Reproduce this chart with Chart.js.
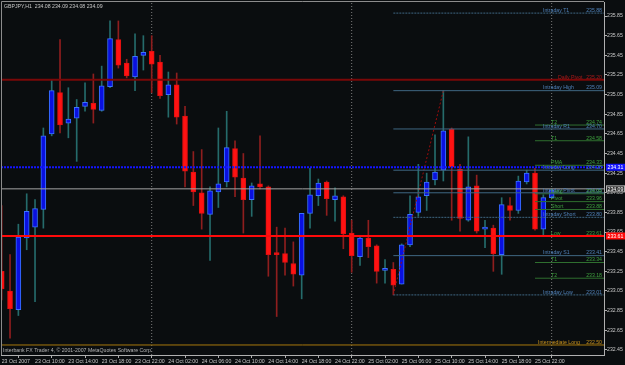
<!DOCTYPE html>
<html><head><meta charset="utf-8">
<script src="https://cdn.jsdelivr.net/npm/chart.js@4.4.1/dist/chart.umd.min.js"></script>
<style>html,body{margin:0;padding:0;background:#0a0d0f;overflow:hidden}</style>
</head><body>
<canvas id="c" width="625" height="365" style="display:block;width:625px;height:365px"></canvas>
<script>
// ---------- DATA ----------
const chartTitle = "GBPJPY,H1  234.08 234.09 234.08 234.09";
const watermark = "Interbank FX Trader 4, \u00A9 2001-2007 MetaQuotes Software Corp.";

// hourly bars, index 0 = 23 Oct 2007 06:00
const opens  = [233.25,233.05,232.86,233.59,233.70,233.88,234.65,235.07,234.76,234.81,234.93,234.96,234.89,235.13,235.61,235.37,235.23,235.45,235.49,235.38,235.05,235.15,234.83,234.26,234.05,233.83,234.06,234.16,234.50,234.20,233.98,234.14,234.11,233.43,233.43,233.33,233.21,233.84,234.02,234.16,233.98,234.01,233.64,233.40,233.59,233.51,233.26,233.27,233.12,233.52,233.85,234.02,234.18,234.28,234.70,234.29,233.77,234.12,233.68,233.69,233.42,233.92,233.87,234.16,234.25,233.68,234.00];
const highs  = [233.92,233.42,233.73,234.04,233.98,234.71,235.20,235.61,235.12,235.00,235.17,235.26,235.34,235.80,235.80,235.41,235.67,235.65,235.65,235.45,235.28,235.27,234.93,234.47,234.49,234.11,234.71,234.88,234.58,234.45,234.15,234.63,234.12,233.70,233.69,233.55,233.84,234.30,234.19,234.17,234.10,234.02,233.77,233.60,233.77,233.52,233.37,233.34,233.53,234.02,234.34,234.25,234.64,235.09,234.71,234.34,234.62,234.23,233.77,233.72,234.00,234.00,234.22,234.28,234.30,234.03,234.09];
const lows   = [232.96,232.57,232.80,233.47,232.94,233.69,234.63,234.66,234.61,234.37,234.88,234.76,234.88,235.12,235.32,235.22,235.09,235.30,235.07,235.01,234.82,234.75,234.11,233.92,233.68,233.36,233.90,234.11,234.01,233.64,233.81,234.09,233.20,232.79,233.21,233.10,232.97,233.69,233.92,233.82,233.76,233.48,233.24,233.31,233.39,233.13,233.13,233.01,233.12,233.50,233.81,233.87,234.13,234.17,233.77,233.66,233.76,233.64,233.49,233.25,233.22,233.77,233.84,234.14,233.67,233.61,234.00];
const closes = [233.07,232.87,233.60,233.86,233.89,234.63,235.09,234.74,234.80,234.92,234.97,234.90,235.14,235.62,235.35,235.24,235.44,235.48,235.36,235.04,235.15,234.82,234.27,234.06,233.84,234.07,234.14,234.51,234.21,233.98,234.12,234.11,233.42,233.42,233.34,233.22,233.84,234.03,234.15,233.99,234.02,233.63,233.41,233.59,233.50,233.25,233.28,233.11,233.52,233.83,234.01,234.16,234.26,234.68,234.31,233.79,234.11,233.66,233.70,233.43,233.93,233.87,234.17,234.25,233.68,234.00,234.08];

const timeTickIndex  = [0,4,8,12,16,20,24,28,32,36,40,44,48,52,56,60,64];
const timeTickLabels = ["23 Oct 2007","23 Oct 10:00","23 Oct 14:00","23 Oct 18:00","23 Oct 22:00","24 Oct 02:00","24 Oct 06:00","24 Oct 10:00","24 Oct 14:00","24 Oct 18:00","24 Oct 22:00","25 Oct 02:00","25 Oct 06:00","25 Oct 10:00","25 Oct 14:00","25 Oct 18:00","25 Oct 22:00"];
const priceTicks = [232.45,232.65,232.85,233.05,233.25,233.45,233.65,233.85,234.05,234.25,234.45,234.65,234.85,235.05,235.25,235.45,235.65,235.85];
const daySeparators = [18,42,66];

const intradayNames  = ["Intraday T1","Intraday High","Intraday R1","Intraday Long","Intraday Pivot","Intraday Short","Intraday S1","Intraday Low"];
const intradayValues = [235.88,235.09,234.70,234.28,234.05,233.80,233.41,233.01];
const intradayDashed = [true,false,false,false,false,true,false,true];
const intradayStart = 47;

const targetNames  = ["T2","T1","PMA","Long","Pivot","Short","Low","T1","T2"];
const targetValues = [234.74,234.58,234.33,234.04,233.96,233.88,233.61,233.34,233.18];
const targetStart = 64;

const dailyPivot = 235.20;
const intermediateLong = 232.50;
const blueLine = 234.31;
const bidLine = 234.09;
const redLine = 233.61;
const trendFrom = [47, 233.01];
const trendTo   = [53, 235.09];

// visible window
const X_MIN = -0.084, X_MAX = 72.28;
const Y_MIN = 232.398, Y_MAX = 235.993;

// ---------- BUILD ----------
const FONT = "'Liberation Sans', Arial, sans-serif";
const FS = 5.2;
const bull = closes.map((c,i)=>c>=opens[i]);

function hline(v, from, color, width, dash){
  return {type:'line', data:[{x:from,y:v},{x:X_MAX,y:v}], borderColor:color, borderWidth:width,
    borderDash:dash||[], pointRadius:0, tension:0, order:0, fill:false};
}

const datasets = [];
datasets.push(hline(dailyPivot, X_MIN, '#7a0808', 2));
datasets.push(hline(blueLine, X_MIN, '#1414ff', 2, [2,1]));
datasets.push(hline(bidLine, X_MIN, '#a4a4a4', 1));
datasets.push(hline(redLine, X_MIN, '#ff0a0a', 2));
datasets.push(hline(intermediateLong, X_MIN, '#a8780c', 1));
intradayValues.forEach((v,k)=>datasets.push(hline(v, intradayStart, '#3f6783', 1, intradayDashed[k]?[2,1]:null)));
targetValues.forEach(v=>datasets.push(hline(v, targetStart, '#2f6f2f', 1)));
daySeparators.forEach(d=>datasets.push({type:'line', data:[{x:d,y:Y_MIN},{x:d,y:Y_MAX}], borderColor:'#7a7a7a', borderWidth:1, borderDash:[1,2], pointRadius:0, order:3}));
datasets.push({type:'line', data:[{x:trendFrom[0],y:trendFrom[1]},{x:trendTo[0],y:trendTo[1]}], borderColor:'#9a0c0c', borderWidth:1, borderDash:[2,2], pointRadius:0, order:0});

datasets.push({type:'bar', data:opens.map((o,i)=>({x:i,y:[o,closes[i]]})),
  backgroundColor:bull.map(b=>b?'#0a10e0':'#ff1212'),
  borderColor:bull.map(b=>b?'#3a72ff':'#e01010'),
  borderWidth:1, borderSkipped:false, barThickness:5, minBarLength:2, grouped:false, order:1});
datasets.push({type:'bar', data:lows.map((l,i)=>({x:i,y:[l,highs[i]]})),
  backgroundColor:bull.map(b=>b?'#256b6b':'#8e1e1e'),
  borderWidth:0, barThickness:1, grouped:false, order:2});

const overlay = {
  id:'overlay',
  beforeDraw(chart){
    const c = chart.ctx; c.save(); c.fillStyle='#0a0d0f'; c.fillRect(0,0,chart.width,chart.height); c.restore();
  },
  afterDraw(chart){
    const c = chart.ctx, a = chart.chartArea, ys = chart.scales.y;
    c.save();
    c.strokeStyle='#8c8c8c'; c.lineWidth=1;
    c.beginPath(); c.moveTo(a.left+0.5,a.bottom); c.lineTo(a.left+0.5,a.top-0.5); c.lineTo(a.right,a.top-0.5); c.stroke();
    c.font = FS+'px '+FONT; c.textBaseline='middle';
    c.fillStyle='#c8c8c8'; c.textAlign='left';
    c.fillText(chartTitle, a.left+3, a.top+5);
    c.fillStyle='#b4b4b4';
    c.fillText(watermark, a.left+2, a.bottom-4);
    c.textBaseline='bottom';
    function lab(name, v, nx, color){
      const y = ys.getPixelForValue(v);
      c.fillStyle=color; c.textAlign='left'; c.fillText(name, nx, y);
      c.textAlign='right'; c.fillText(v.toFixed(2), a.right-2, y);
    }
    intradayValues.forEach((v,k)=>lab(intradayNames[k], v, a.right-61, '#4f80b8'));
    targetValues.forEach((v,k)=>lab(targetNames[k], v, a.right-53, '#3ea03e'));
    lab('Daily Pivot', dailyPivot, a.right-46, '#a81a1a');
    lab('Intermediate Long', intermediateLong, a.right-66, '#c8921e');
    c.textBaseline='middle';
    function box(v, bg, fg, bd){
      const y = ys.getPixelForValue(v);
      c.fillStyle=bg; c.fillRect(a.right+2, y-3.5, chart.width-a.right-2, 7);
      if(bd){c.strokeStyle=bd; c.strokeRect(a.right+2.5, y-3, chart.width-a.right-3, 6);}
      c.fillStyle=fg; c.textAlign='left'; c.fillText(v.toFixed(2), a.right+3.5, y+0.5);
    }
    box(blueLine,'#1414ff','#ffffff');
    box(bidLine,'#303030','#ffffff','#b0b0b0');
    box(redLine,'#ff0a0a','#ffffff');
    c.restore();
  }
};

new Chart(document.getElementById('c'), {
  type:'bar',
  data:{datasets},
  options:{
    responsive:false, animation:false, devicePixelRatio:1,
    layout:{padding:{top:2,left:1,right:0,bottom:0}},
    plugins:{legend:{display:false}, tooltip:{enabled:false}},
    scales:{
      x:{type:'linear', min:X_MIN, max:X_MAX, position:'bottom', offset:false,
        grid:{display:true, drawOnChartArea:false, drawTicks:true, tickLength:3, color:'#b0b0b0'},
        border:{display:true, color:'#b0b0b0'},
        ticks:{align:'start', maxRotation:0, minRotation:0, autoSkip:false, padding:0, color:'#c8c8c8',
          font:{family:FONT, size:FS},
          callback:(v)=>{const k=timeTickIndex.indexOf(v); return k>=0?timeTickLabels[k]:'';}},
        afterBuildTicks:(s)=>{s.ticks = timeTickIndex.map(v=>({value:v}));},
        afterFit:(s)=>{s.height=10; s.paddingLeft=0; s.paddingRight=0;}
      },
      y:{type:'linear', min:Y_MIN, max:Y_MAX, position:'right',
        grid:{display:true, drawOnChartArea:false, drawTicks:true, tickLength:3, color:'#b0b0b0'},
        border:{display:true, color:'#b0b0b0'},
        ticks:{padding:0, color:'#c8c8c8', font:{family:FONT, size:FS},
          callback:(v)=>v.toFixed(2)},
        afterBuildTicks:(s)=>{s.ticks = priceTicks.map(v=>({value:v}));},
        afterFit:(s)=>{s.width=21; s.paddingTop=0; s.paddingBottom=0;}
      }
    }
  },
  plugins:[overlay]
});
</script>
</body></html>
